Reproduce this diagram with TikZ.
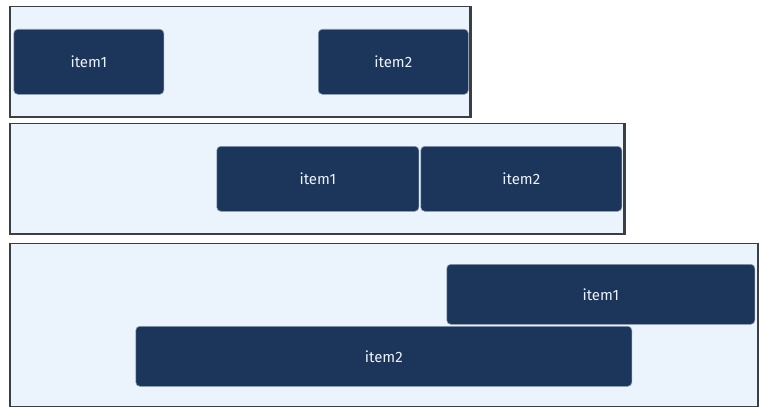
\documentclass[tikz,border=0pt]{standalone}
\usepackage{fontspec}
\setmainfont{Fira Sans}
\definecolor{panelfill}{HTML}{EBF3FC}
\definecolor{panelline}{HTML}{3A3F45}
\definecolor{itemfill}{HTML}{1B355B}
\definecolor{itemline}{HTML}{8C99AA}
\definecolor{itemtext}{HTML}{EEF2F7}
\tikzset{
  panel/.style={fill=panelfill, draw=panelline, line width=1.4pt},
  item/.style={fill=itemfill, draw=itemline, line width=0.6pt, rounded corners=4pt, text=itemtext, font=\fontsize{15}{17}\selectfont},
}
\begin{document}
\begin{tikzpicture}[x=1pt,y=-1pt]
\useasboundingbox (0,0) rectangle (767,412);
% panel 1
\draw[panel] (10,6.5) rectangle (470.5,117);
\draw[panelline, line width=2.4pt] (470.5,6) -- (470.5,117.7);
\node[item, minimum width=150pt, minimum height=65pt, anchor=north west] (p1a) at (13.5,29) {item1};
\node[item, minimum width=150pt, minimum height=65pt, anchor=north west] (p1b) at (318,29) {item2};
% panel 2
\draw[panel] (10,123.5) rectangle (624.5,234);
\draw[panelline, line width=2.4pt] (624.5,123) -- (624.5,234.7);
\node[item, minimum width=202pt, minimum height=65pt, anchor=north west] (p2a) at (216.5,146) {item1};
\node[item, minimum width=201pt, minimum height=65pt, anchor=north west] (p2b) at (420.5,146) {item2};
% panel 3
\draw[panel] (10,243.5) rectangle (758,406.5);
\draw[panelline, line width=2.4pt] (758,243) -- (758,407.2);
\node[item, minimum width=308pt, minimum height=60pt, anchor=north west] (p3a) at (446.5,264) {item1};
\node[item, minimum width=496pt, minimum height=60pt, anchor=north west] (p3b) at (135.5,326) {item2};
\end{tikzpicture}
\end{document}
